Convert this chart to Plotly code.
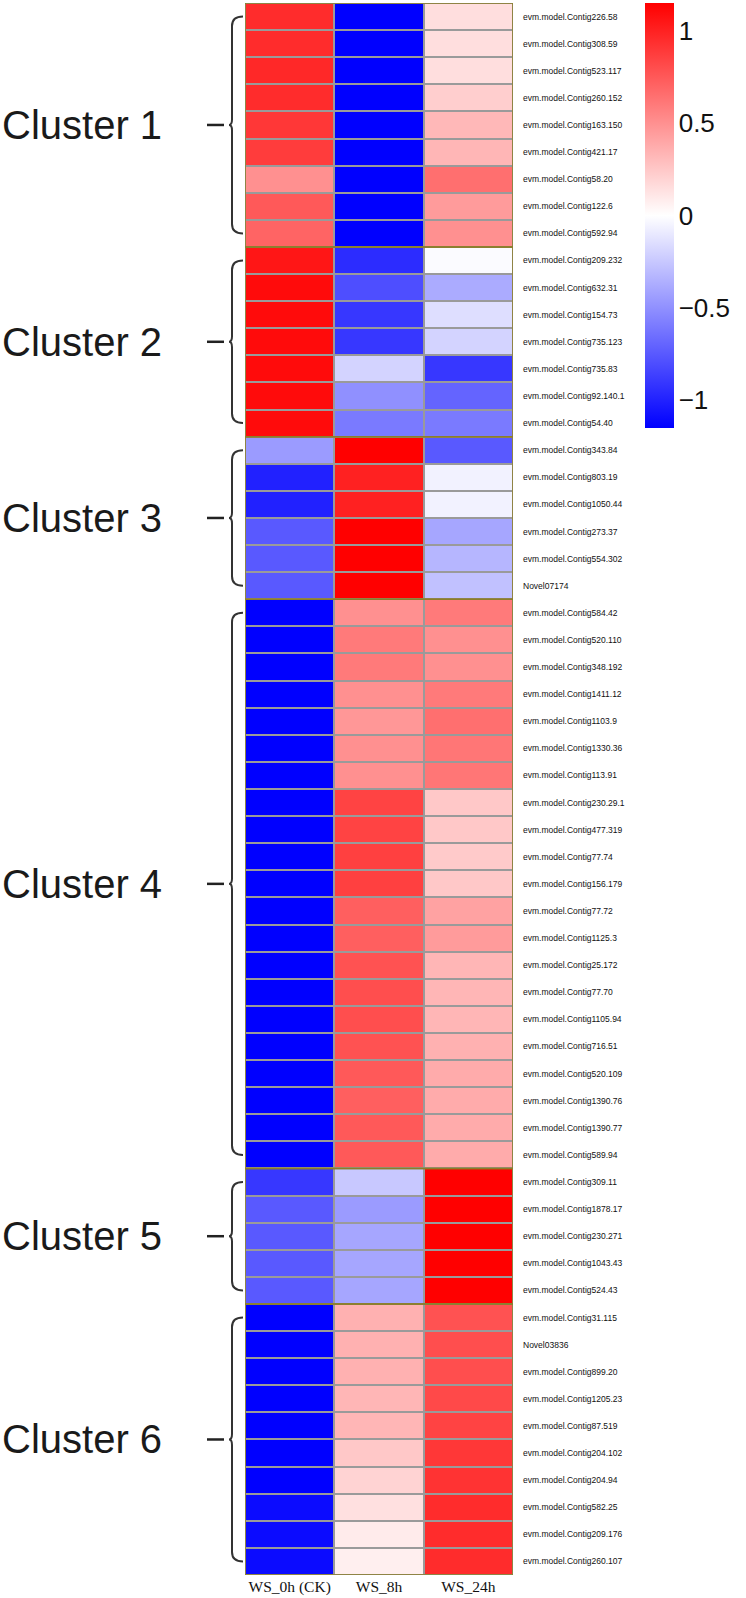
import plotly.graph_objects as go

columns = ["WS_0h (CK)", "WS_8h", "WS_24h"]

genes = [
    "evm.model.Contig226.58", "evm.model.Contig308.59", "evm.model.Contig523.117",
    "evm.model.Contig260.152", "evm.model.Contig163.150", "evm.model.Contig421.17",
    "evm.model.Contig58.20", "evm.model.Contig122.6", "evm.model.Contig592.94",
    "evm.model.Contig209.232", "evm.model.Contig632.31", "evm.model.Contig154.73",
    "evm.model.Contig735.123", "evm.model.Contig735.83", "evm.model.Contig92.140.1",
    "evm.model.Contig54.40",
    "evm.model.Contig343.84", "evm.model.Contig803.19", "evm.model.Contig1050.44",
    "evm.model.Contig273.37", "evm.model.Contig554.302", "Novel07174",
    "evm.model.Contig584.42", "evm.model.Contig520.110", "evm.model.Contig348.192",
    "evm.model.Contig1411.12", "evm.model.Contig1103.9", "evm.model.Contig1330.36",
    "evm.model.Contig113.91", "evm.model.Contig230.29.1", "evm.model.Contig477.319",
    "evm.model.Contig77.74", "evm.model.Contig156.179", "evm.model.Contig77.72",
    "evm.model.Contig1125.3", "evm.model.Contig25.172", "evm.model.Contig77.70",
    "evm.model.Contig1105.94", "evm.model.Contig716.51", "evm.model.Contig520.109",
    "evm.model.Contig1390.76", "evm.model.Contig1390.77", "evm.model.Contig589.94",
    "evm.model.Contig309.11", "evm.model.Contig1878.17", "evm.model.Contig230.271",
    "evm.model.Contig1043.43", "evm.model.Contig524.43",
    "evm.model.Contig31.115", "Novel03836", "evm.model.Contig899.20",
    "evm.model.Contig1205.23", "evm.model.Contig87.519", "evm.model.Contig204.102",
    "evm.model.Contig204.94", "evm.model.Contig582.25", "evm.model.Contig209.176",
    "evm.model.Contig260.107",
]

ws_0h = [
    0.95, 0.95, 0.97, 0.95, 0.90, 0.88, 0.50, 0.75, 0.70,
    1.05, 1.10, 1.10, 1.10, 1.10, 1.10, 1.10,
    -0.45, -1.00, -1.00, -0.75, -0.75, -0.75,
    -1.15, -1.15, -1.15, -1.15, -1.15, -1.15, -1.15, -1.15, -1.15, -1.15, -1.15,
    -1.15, -1.15, -1.15, -1.15, -1.15, -1.15, -1.15, -1.15, -1.15, -1.15,
    -0.90, -0.75, -0.75, -0.75, -0.75,
    -1.15, -1.15, -1.15, -1.15, -1.15, -1.15, -1.15, -1.10, -1.10, -1.10,
]

ws_8h = [
    -1.15, -1.15, -1.15, -1.15, -1.15, -1.15, -1.15, -1.15, -1.15,
    -0.95, -0.80, -0.90, -0.90, -0.20, -0.50, -0.60,
    1.15, 1.00, 1.00, 1.15, 1.15, 1.15,
    0.50, 0.60, 0.60, 0.50, 0.47, 0.50, 0.50, 0.85, 0.85, 0.86, 0.86,
    0.72, 0.72, 0.78, 0.80, 0.80, 0.78, 0.75, 0.72, 0.75, 0.75,
    -0.25, -0.45, -0.40, -0.40, -0.40,
    0.35, 0.35, 0.35, 0.33, 0.33, 0.25, 0.20, 0.14, 0.09, 0.07,
]

ws_24h = [
    0.15, 0.15, 0.15, 0.22, 0.32, 0.33, 0.65, 0.45, 0.50,
    -0.02, -0.38, -0.15, -0.20, -0.90, -0.70, -0.60,
    -0.75, -0.06, -0.06, -0.40, -0.33, -0.28,
    0.60, 0.50, 0.50, 0.60, 0.65, 0.62, 0.62, 0.25, 0.25, 0.24, 0.25,
    0.42, 0.45, 0.33, 0.33, 0.33, 0.35, 0.38, 0.38, 0.38, 0.38,
    1.15, 1.15, 1.15, 1.15, 1.15,
    0.78, 0.80, 0.80, 0.82, 0.85, 0.90, 0.92, 0.95, 0.95, 0.95,
]

cluster_names = ["Cluster 1", "Cluster 2", "Cluster 3", "Cluster 4", "Cluster 5", "Cluster 6"]
cluster_sizes = [9, 7, 6, 21, 5, 10]

colorbar_ticks = [-1, -0.5, 0, 0.5, 1]

W, H = 746, 1598
L, R, T, B = 245, 513, 3, 1575  # plot area in pixels
PW = R - L


def px_x(px):
    return (px - L) / PW


n = len(genes)
z = [[ws_0h[i], ws_8h[i], ws_24h[i]] for i in range(n)]

fig = go.Figure(
    go.Heatmap(
        z=z,
        x=list(range(len(columns))),
        y=list(range(n)),
        zmin=-1.15,
        zmax=1.15,
        colorscale=[[0, "rgb(0,0,255)"], [0.5, "rgb(255,255,255)"], [1, "rgb(255,0,0)"]],
        xgap=2,
        ygap=2,
        hoverinfo="skip",
        colorbar=dict(
            x=px_x(645),
            xanchor="left",
            xref="paper",
            y=1,
            yanchor="top",
            len=425,
            lenmode="pixels",
            thickness=29,
            thicknessmode="pixels",
            outlinewidth=0,
            xpad=0,
            ypad=0,
            tickvals=colorbar_ticks,
            ticktext=["\u22121", "\u22120.5", "0", "0.5", "1"],
            ticks="outside",
            ticklen=0,
            tickcolor="rgba(0,0,0,0)",
            tickfont=dict(family="Liberation Sans, Arial", size=26, color="#111"),
        ),
    )
)

shapes = []
annotations = []
# outer frame
shapes.append(dict(type="rect", xref="x", yref="y", x0=-0.5, x1=2.5, y0=-0.5, y1=n - 0.5,
                   line=dict(color="#9a9a9a", width=2)))

start = 0
for name, size in zip(cluster_names, cluster_sizes):
    r0 = start
    r1 = start + size - 1
    mid = (r0 + r1) / 2
    # cluster frame
    shapes.append(dict(type="rect", xref="x", yref="y", x0=-0.5, x1=2.5,
                       y0=r0 - 0.5, y1=r1 + 0.5,
                       line=dict(color="#8c7d2a", width=1.5)))
    # bracket (x in paper, y in data)
    xh = px_x(243)
    xv = px_x(232)
    xc = px_x(229)
    path = (
        f"M {xh},{r0} Q {xv},{r0} {xv},{r0 + 0.35} "
        f"L {xv},{mid - 0.2} Q {xv},{mid} {xc},{mid} "
        f"Q {xv},{mid} {xv},{mid + 0.2} "
        f"L {xv},{r1 - 0.35} Q {xv},{r1} {xh},{r1}"
    )
    shapes.append(dict(type="path", xref="paper", yref="y", path=path,
                       line=dict(color="#333333", width=2)))
    shapes.append(dict(type="line", xref="paper", yref="y", x0=px_x(207), x1=px_x(224),
                       y0=mid, y1=mid, line=dict(color="#222222", width=2.5)))
    annotations.append(dict(xref="paper", yref="y", x=px_x(164), y=mid, text=name,
                            showarrow=False, xanchor="right", yanchor="middle",
                            font=dict(family="Liberation Sans, Arial", size=40, color="#1a1a1a")))
    start += size

fig.update_layout(
    width=W,
    height=H,
    margin=dict(l=L, r=W - R, t=T, b=H - B, pad=0, autoexpand=False),
    paper_bgcolor="white",
    plot_bgcolor="#9a9a9a",
    shapes=shapes,
    annotations=annotations,
    xaxis=dict(
        tickvals=list(range(len(columns))),
        ticktext=columns,
        range=[-0.5, 2.5],
        showgrid=False,
        zeroline=False,
        ticks="",
        automargin=False,
        ticklabelstandoff=0,
        tickfont=dict(family="Liberation Serif, Times New Roman", size=15.5, color="#111"),
    ),
    yaxis=dict(
        tickvals=list(range(n)),
        ticktext=genes,
        range=[n - 0.5, -0.5],
        side="right",
        showgrid=False,
        zeroline=False,
        ticks="",
        automargin=False,
        ticklabelstandoff=9,
        tickfont=dict(family="Liberation Sans, Arial", size=8.5, color="#111"),
    ),
)

fig.write_html(
    "out.html",
    config={"displayModeBar": False, "staticPlot": True},
    post_script="document.body.style.margin='0';document.body.style.padding='0';document.body.style.overflow='hidden';",
)
